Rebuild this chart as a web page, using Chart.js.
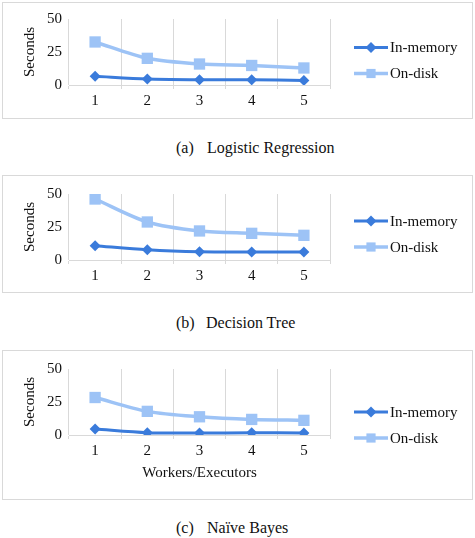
<!DOCTYPE html>
<html>
<head>
<meta charset="utf-8">
<script src="https://cdn.jsdelivr.net/npm/chart.js@4"></script>
<style>
  body { margin: 0; background: #fff; width: 475px; height: 538px; position: relative; overflow: hidden; font-family: "Liberation Serif", serif; }
  .box { position: absolute; left: 2px; width: 469px; border: 1px solid #d9d9d9; }
  .box canvas { position: absolute; left: 0; top: 0; }
  .cap { position: absolute; font-size: 16px; line-height: 18px; color: #111; white-space: nowrap; }
  .cap span { position: absolute; top: 0; }
</style>
</head>
<body>
<div class="box" style="top:2px;height:115px"><canvas id="lr" width="469" height="115"></canvas></div>
<div class="cap" style="top:139px;left:0"><span style="left:176px">(a)</span><span style="left:207px">Logistic Regression</span></div>

<div class="box" style="top:175px;height:116px"><canvas id="dt" width="469" height="116"></canvas></div>
<div class="cap" style="top:314px;left:0"><span style="left:176px">(b)</span><span style="left:206px">Decision Tree</span></div>

<div class="box" style="top:350px;height:148px"><canvas id="nb" width="469" height="148"></canvas></div>
<div class="cap" style="top:519px;left:0"><span style="left:176px">(c)</span><span style="left:207px">Naïve Bayes</span></div>

<script>
// data
let workers = ['1', '2', '3', '4', '5'];
let yTicks = [0, 25, 50];
let seriesNames = ['In-memory', 'On-disk'];
let lrMem = [6.6, 4.5, 4.0, 3.9, 3.5];
let lrDisk = [32.6, 20.2, 15.9, 14.8, 12.9];
let dtMem = [10.8, 7.8, 6.3, 6.1, 6.0];
let dtDisk = [46.2, 28.8, 22.0, 20.2, 18.7];
let nbMem = [4.5, 1.7, 1.5, 1.7, 1.5];
let nbDisk = [28.4, 17.9, 13.8, 11.8, 11.1];

let darkBlue = '#3a7bdb';
let lightBlue = '#9dc3f6';
let gridGray = '#d9d9d9';
let serif = 'Liberation Serif';

// legend drawn by hand: line with the marker in the middle, like excel
let sideLegend = {
  id: 'sideLegend',
  afterDraw(chart) {
    let ctx = chart.ctx;
    let x0 = chart.chartArea.right + 24;
    let x1 = x0 + 34;
    let mid = chart.height / 2;
    chart.data.datasets.forEach((ds, i) => {
      let y = mid - 13 + i * 26;
      ctx.save();
      ctx.strokeStyle = ds.borderColor;
      ctx.lineWidth = ds.borderWidth;
      ctx.beginPath();
      ctx.moveTo(x0, y);
      ctx.lineTo(x1, y);
      ctx.stroke();
      ctx.fillStyle = ds.backgroundColor;
      ctx.strokeStyle = ds.backgroundColor;
      Chart.helpers.drawPoint(ctx, {pointStyle: ds.pointStyle, radius: ds.pointRadius - (i == 1 ? 1.5 : 0), borderWidth: 0}, (x0 + x1) / 2, y);
      ctx.fillStyle = '#111';
      ctx.font = '15px "' + serif + '"';
      ctx.textBaseline = 'middle';
      ctx.fillText(ds.label, x1 + 2, y + 1);
      ctx.restore();
    });
  }
};

function makeChart(id, mem, disk, topPad, xHeight, xTitle) {
  let ctx = document.getElementById(id);
  return new Chart(ctx, {
    type: 'line',
    data: {
      labels: workers,
      datasets: [
        {
          label: seriesNames[0],
          data: mem,
          borderColor: darkBlue,
          backgroundColor: darkBlue,
          borderWidth: 3,
          pointStyle: 'rectRot',
          pointRadius: 5.5,
          pointBorderWidth: 0,
          tension: 0.3
        },
        {
          label: seriesNames[1],
          data: disk,
          borderColor: lightBlue,
          backgroundColor: lightBlue,
          borderWidth: 3.5,
          pointStyle: 'rect',
          pointRadius: 8,
          pointBorderWidth: 0,
          tension: 0.3
        }
      ]
    },
    options: {
      responsive: false,
      animation: false,
      layout: { padding: { left: 0, right: 142, top: topPad, bottom: 0 } },
      plugins: { legend: { display: false }, tooltip: { enabled: false } },
      scales: {
        x: {
          offset: true,
          grid: { display: true, offset: true, color: gridGray, tickLength: 4, tickColor: gridGray },
          border: { display: true, color: gridGray },
          ticks: { color: '#111', padding: 3, font: { family: serif, size: 15 } },
          title: { display: !!xTitle, text: xTitle, color: '#111', padding: { top: 0, bottom: 17 }, font: { family: serif, size: 15 } },
          afterFit: function (scale) { scale.height = xHeight; }
        },
        y: {
          min: 0,
          max: 50,
          grid: { display: false, drawTicks: false },
          border: { display: false },
          afterBuildTicks: function (scale) { scale.ticks = yTicks.map(v => ({ value: v })); },
          ticks: { color: '#111', padding: 7, font: { family: serif, size: 15 } },
          title: { display: true, text: 'Seconds', color: '#111', padding: { top: 18, bottom: 0 }, font: { family: serif, size: 15 } },
          afterFit: function (scale) { scale.width = 66; }
        }
      }
    },
    plugins: [sideLegend]
  });
}

makeChart('lr', lrMem, lrDisk, 16, 33, '');
makeChart('dt', dtMem, dtDisk, 18, 32, '');
makeChart('nb', nbMem, nbDisk, 18, 64, 'Workers/Executors');
</script>
</body>
</html>
